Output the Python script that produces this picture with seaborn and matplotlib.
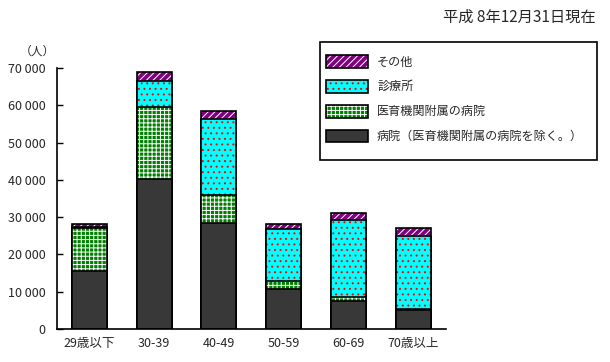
import matplotlib
matplotlib.use("Agg")
import matplotlib.pyplot as plt
import seaborn as sns
import numpy as np
from matplotlib.patches import Patch, Rectangle

ages = ['29歳以下', '30-39', '40-49', '50-59', '60-69', '70歳以上']
hospital = [15600, 40200, 28400, 10700, 7500, 5200]
affiliated = [11500, 19400, 7600, 2250, 1150, 150]
clinic = [200, 6800, 20300, 13850, 20550, 19550]
other = [800, 2600, 2150, 1350, 1900, 2100]

labels = ['その他', '診療所', '医育機関附属の病院', '病院（医育機関附属の病院を除く。）']
yticks = [0, 10000, 20000, 30000, 40000, 50000, 60000, 70000]

sns.set_style("white")
plt.rcParams['font.family'] = ['Noto Sans CJK JP', 'DejaVu Sans']
plt.rcParams['hatch.linewidth'] = 0.7

fig = plt.figure(figsize=(6.1, 3.62), dpi=100)
ax = fig.add_axes([0.093, 0.0912, 0.638, 0.721])

h = np.array(hospital)
a = h + np.array(affiliated)
c = a + np.array(clinic)
t = c + np.array(other)

# fill colour, hatch colour, hatch pattern for each layer (top to bottom)
layers = [
    (t, '#800080', 'white', '/////'),
    (c, '#00ffff', 'red', '...'),
    (a, '#008000', 'white', '++++'),
    (h, '#383838', '#383838', None),
]
w = 0.54
for vals, fc, hc, hatch in layers:
    sns.barplot(x=ages, y=vals, ax=ax, color=fc, saturation=1, width=w,
                edgecolor=hc, linewidth=0, hatch=hatch)
    sns.barplot(x=ages, y=vals, ax=ax, color='black', fill=False, saturation=1,
                width=w, linewidth=1.2)

ax.set_xlim(-0.5, 5.5)
ax.set_ylim(0, 70000)
ax.set_yticks(yticks)
ax.set_yticklabels([f"{v:,}".replace(',', ' ') for v in yticks], fontsize=9)
ax.set_xticks(range(len(ages)))
ax.set_xticklabels(ages, fontsize=9)
ax.set_xticks(np.arange(0.5, 6, 1), minor=True)
ax.tick_params(axis='x', which='major', length=0, pad=6)
ax.tick_params(axis='x', which='minor', direction='in', length=3, width=1, color='black')
ax.tick_params(axis='y', direction='in', length=4, width=1, color='black', pad=8, left=True)
ax.set_xlabel('')
ax.set_ylabel('')
for s in ['top', 'right']:
    ax.spines[s].set_visible(False)
for s in ['left', 'bottom']:
    ax.spines[s].set_color('black')
    ax.spines[s].set_linewidth(1.2)

fig.text(37 / 610, 1 - 51 / 362, '（人）', fontsize=8.5, ha='center', va='center')
fig.text(596 / 610, 1 - 17 / 362, '平成 8年12月31日現在', fontsize=11, ha='right', va='center')

# legend
fig.add_artist(Rectangle((320 / 610, 1 - 160 / 362), 277 / 610, 118 / 362,
                         transform=fig.transFigure, fill=False, edgecolor='black', linewidth=1.2))
handles = []
for _, fc, hc, hatch in layers:
    handles.append((Patch(facecolor=fc, edgecolor=hc, linewidth=0, hatch=hatch),
                    Patch(facecolor='none', edgecolor='black', linewidth=1.2)))
fs = 8.7
px = fs * 100 / 72
fig.legend(handles, labels, loc='upper left', bbox_to_anchor=(326 / 610, 1 - 55 / 362),
           frameon=False, fontsize=fs, borderpad=0, borderaxespad=0,
           handlelength=42 / px, handleheight=15 / px, handletextpad=9 / px,
           labelspacing=0.95)

fig.savefig('out.png', dpi=100)
